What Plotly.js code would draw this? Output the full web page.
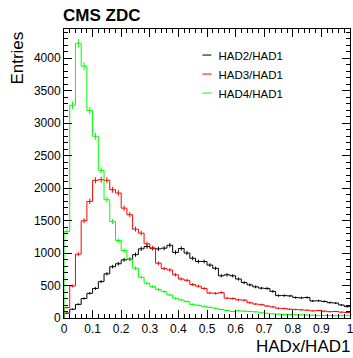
<!DOCTYPE html>
<html><head><meta charset="utf-8">
<script src="https://cdn.plot.ly/plotly-3.0.1.min.js"></script>
<style>body{margin:0;background:#fff}</style>
</head><body><div id="chart" style="width:353px;height:358px"></div>
<script>
// Histogram definition: 50 bins from 0 to 1
const xMin = 0, xMax = 1, nBins = 50;
const seriesNames = ["HAD2/HAD1", "HAD3/HAD1", "HAD4/HAD1"];
const seriesColors = ["#000000", "#ff0000", "#00ff00"];
const had2 = [75,135,210,300,380,455,560,680,790,835,895,905,975,1065,1100,1075,1065,1075,1120,1010,
  1070,1000,920,870,870,815,765,650,665,650,600,545,510,480,460,455,410,345,345,340,
  315,310,315,262,265,255,236,230,200,175];
const had3 = [160,494,983,1497,1795,2120,2130,2120,1975,1924,1692,1590,1368,1306,1142,1075,844,760,740,665,
  600,580,515,490,455,385,380,390,305,300,280,275,235,215,205,185,170,150,145,135,
  130,125,120,110,115,105,97,100,90,85];
const had4 = [1330,3276,4230,3878,3194,2798,2273,1821,1486,1193,1039,905,767,628,535,483,440,406,355,304,
  278,252,210,195,180,165,150,130,115,100,110,105,100,95,80,72,65,60,55,55,
  50,48,45,42,40,40,38,35,35,36];
const yTickVals = [0,500,1000,1500,2000,2500,3000,3500,4000];
const xTickVals = [0,0.1,0.2,0.3,0.4,0.5,0.6,0.7,0.8,0.9,1];
const xTickText = ["0","0.1","0.2","0.3","0.4","0.5","0.6","0.7","0.8","0.9","1"];

const bw = (xMax - xMin) / nBins;
const edges = Array.from({length: nBins + 1}, (_, i) => xMin + i * bw);
const centers = Array.from({length: nBins}, (_, i) => xMin + (i + 0.5) * bw);

const allSeries = [had2, had3, had4];
const traces = [];
allSeries.forEach((vals, k) => {
  traces.push({
    type: 'scatter', mode: 'lines', name: seriesNames[k],
    x: [xMin].concat(edges), y: [0].concat(vals, [vals[vals.length - 1]]),
    line: {shape: 'hv', color: seriesColors[k], width: 1},
    hoverinfo: 'skip'
  });
});
allSeries.forEach((vals, k) => {
  traces.push({
    type: 'scatter', mode: 'markers', showlegend: false,
    x: centers, y: vals,
    marker: {size: 0.1, opacity: 0, color: seriesColors[k]},
    error_y: {type: 'data', array: vals.map(v => Math.sqrt(v)), color: seriesColors[k], thickness: 1, width: 0},
    hoverinfo: 'skip'
  });
});

const font = 'Liberation Sans, Arial, Helvetica, sans-serif';
const axisCommon = {
  showline: true, linecolor: '#000', linewidth: 1, mirror: 'allticks',
  ticks: 'inside', ticklen: 8, tickcolor: '#000', tickwidth: 1,
  showgrid: false, zeroline: false, ticklabeloverflow: 'allow',
  tickfont: {family: font, size: 12, color: '#000'}
};
const layout = {
  width: 353, height: 358,
  margin: {l: 64, r: 3, t: 29, b: 40},
  paper_bgcolor: '#fff', plot_bgcolor: '#fff',
  font: {family: font, color: '#000'},
  title: {text: '<b>CMS ZDC</b>', font: {family: font, size: 17, color: '#000'},
          xref: 'container', x: 63 / 353, xanchor: 'left', yref: 'container', y: 1 - 15 / 358, yanchor: 'middle'},
  xaxis: Object.assign({}, axisCommon, {
    range: [xMin - 1e-6, xMax + 1e-6], tickvals: xTickVals, ticktext: xTickText,
    minor: {dtick: 0.02, tick0: 0, ticks: 'inside', ticklen: 4, tickcolor: '#000', showgrid: false}
  }),
  yaxis: Object.assign({}, axisCommon, {
    range: [0, 4450], tickvals: yTickVals,
    minor: {dtick: 100, ticks: 'inside', ticklen: 4, tickcolor: '#000', showgrid: false}
  }),
  showlegend: true,
  legend: {x: 0.4, xanchor: 'left', y: 0.96, yanchor: 'top', bgcolor: 'rgba(0,0,0,0)',
           font: {family: font, size: 11.5, color: '#000'}, itemwidth: 30, tracegroupgap: 0},
  annotations: [
    {text: 'Entries', textangle: -90, xref: 'paper', yref: 'paper', x: -0.164, xanchor: 'center',
     y: 0.9965, yanchor: 'top', showarrow: false, font: {family: font, size: 17, color: '#000'}},
    {text: 'HADx/HAD1', xref: 'paper', yref: 'paper', x: 1.002, xanchor: 'right',
     y: -0.136, yanchor: 'bottom', showarrow: false, borderpad: 0, font: {family: font, size: 17, color: '#000'}}
  ]
};
Plotly.newPlot('chart', traces, layout, {staticPlot: true, displayModeBar: false}).then(gd => {
  document.querySelectorAll('.legendlines path').forEach(p => p.setAttribute('d', 'M24,0h9'));
});
</script>
</body></html>
